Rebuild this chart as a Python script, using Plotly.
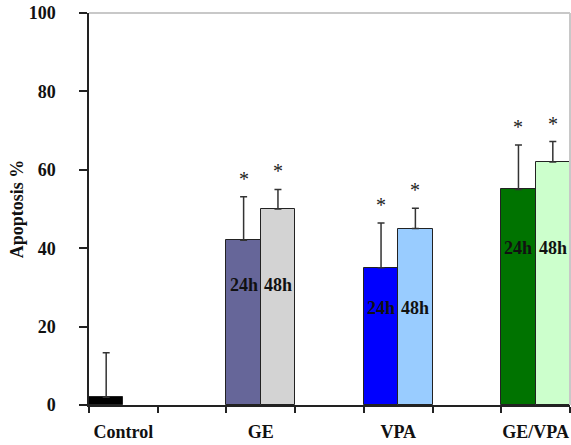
import plotly.graph_objects as go

# ---- data ----
groups = ["Control", "GE", "VPA", "GE/VPA"]
group_pos = [0.5, 2.5, 4.5, 6.5]          # centre of each group on a 0..7 slot axis
series_names = ["24h", "48h"]
vals_24h = [2.0, 42.0, 35.0, 55.0]
upper_24h = [13.3, 53.1, 46.4, 66.3]
vals_48h = [None, 50.0, 45.0, 62.0]
upper_48h = [None, 55.0, 50.2, 67.2]
colors_24h = ["#000000", "#666699", "#0000ff", "#007300"]
colors_48h = ["#ffffff", "#d3d3d3", "#99ccff", "#ccffcc"]
significant = [False, True, True, True]
label_y = [None, 30.6, 24.7, 40.0]          # height of in-bar "24h"/"48h" labels
y_ticks = [0, 20, 40, 60, 80, 100]
slot_ticks = [0, 1, 2, 3, 4, 5, 6, 7]

FONT = "Liberation Serif, Times New Roman, serif"
BW = 0.5

x24 = [p - BW / 2 for p in group_pos]
x48 = [p + BW / 2 for p in group_pos]

fig = go.Figure()

def err(vals, ups):
    return [(u - v) if (u is not None and v is not None) else None for v, u in zip(vals, ups)]

fig.add_trace(go.Bar(
    x=x24, y=vals_24h, width=BW, name=series_names[0],
    marker=dict(color=colors_24h, line=dict(color="#222222", width=1)),
    error_y=dict(type="data", symmetric=False, array=err(vals_24h, upper_24h),
                 arrayminus=[0] * 4, color="#333333", thickness=1.5, width=3.5),
))
fig.add_trace(go.Bar(
    x=[x for x, v in zip(x48, vals_48h) if v is not None],
    y=[v for v in vals_48h if v is not None], width=BW, name=series_names[1],
    marker=dict(color=[c for c, v in zip(colors_48h, vals_48h) if v is not None],
                line=dict(color="#222222", width=1)),
    error_y=dict(type="data", symmetric=False,
                 array=[e for e in err(vals_48h, upper_48h) if e is not None],
                 arrayminus=[0] * 3, color="#333333", thickness=1.5, width=3.5),
))

annotations = []
for i in range(len(groups)):
    if significant[i]:
        for xx, up in ((x24[i], upper_24h[i]), (x48[i], upper_48h[i])):
            annotations.append(dict(x=xx, y=up, text="*", showarrow=False, yanchor="bottom",
                                    yshift=5, font=dict(family=FONT, size=20, color="#222222")))
    if label_y[i] is not None:
        for xx, name in ((x24[i], series_names[0]), (x48[i], series_names[1])):
            annotations.append(dict(x=xx, y=label_y[i], text="<b>%s</b>" % name, showarrow=False,
                                    font=dict(family=FONT, size=18, color="#111111")))

fig.update_layout(
    width=571, height=445,
    margin=dict(l=89, r=1, t=13, b=40),
    paper_bgcolor="white", plot_bgcolor="white",
    showlegend=False, barmode="overlay", bargap=0,
    font=dict(family=FONT, color="#111111"),
    annotations=annotations,
    shapes=[
        dict(type="line", xref="paper", yref="paper", x0=0, x1=1, y0=1, y1=1,
             line=dict(color="#c8c8c8", width=2)),
        dict(type="line", xref="paper", yref="paper", x0=1, x1=1, y0=0, y1=1,
             line=dict(color="#c8c8c8", width=2)),
    ],
)
fig.update_xaxes(
    range=[0, 7], showgrid=False, zeroline=False,
    showline=True, linecolor="#222222", linewidth=1.5,
    tickmode="array", tickvals=group_pos, ticktext=["<b>%s</b>" % g for g in groups],
    ticks="", ticklabelstandoff=10,
    tickfont=dict(family=FONT, size=18, color="#111111"),
    minor=dict(tickmode="array", tickvals=slot_ticks, ticks="outside", ticklen=6,
               tickwidth=1.5, tickcolor="#222222", showgrid=False),
)
fig.update_yaxes(
    range=[0, 100], showgrid=False, zeroline=False,
    showline=True, linecolor="#222222", linewidth=1.5,
    tickmode="array", tickvals=y_ticks, ticktext=["<b>%d</b>" % t for t in y_ticks],
    ticks="outside", ticklen=8, tickwidth=1.5, tickcolor="#222222",
    ticklabelstandoff=20,
    tickfont=dict(family=FONT, size=18, color="#111111"),
    title=dict(text="<b>Apoptosis %</b>", standoff=0,
               font=dict(family=FONT, size=18, color="#111111")),
)

fig.write_html("out.html", config={"displayModeBar": False},
               post_script="document.body.style.margin='0';")
